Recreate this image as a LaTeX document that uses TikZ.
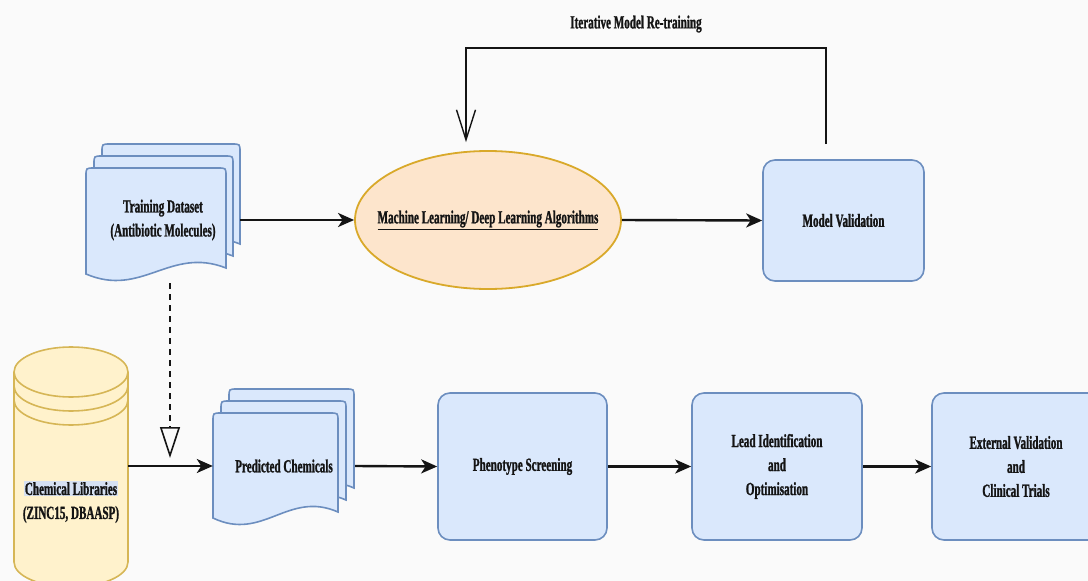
\documentclass[tikz,border=0pt]{standalone}
\usepackage{fontspec}
\setmainfont{Liberation Serif}[FakeStretch=0.6,
  BoldFont={Liberation Serif Bold}, BoldFeatures={FakeStretch=0.6, FakeBold=1.2}]
\usetikzlibrary{arrows.meta,shapes.geometric,calc}

\definecolor{bg}{HTML}{FAFAFA}
\definecolor{bluefill}{HTML}{DAE8FC}
\definecolor{bluedraw}{HTML}{6C8EBF}
\definecolor{yelfill}{HTML}{FFF2CC}
\definecolor{yeldraw}{HTML}{D6B656}
\definecolor{peach}{HTML}{FDE5CC}
\definecolor{gold}{HTML}{D9A92A}
\definecolor{ink}{HTML}{141414}
\definecolor{hilite}{HTML}{D6E1F3}

% one sheet of a stacked document: left x, top y, right x, left end y, right end y
\newcommand\docsheet[5]{%
  \filldraw[docline] (#1,#4) -- (#1,{#2+8}) .. controls (#1,#2) .. ({#1+8},#2)
    -- ({#3-8},#2) .. controls (#3,#2) .. (#3,{#2+8}) -- (#3,#5)
    .. controls ({#3-0.4*(#3-#1)},{#4-28}) and ({#1+0.4*(#3-#1)},{#4+24}) .. (#1,#4) -- cycle;}

\begin{document}
\begin{tikzpicture}[x=1pt,y=-1pt,
  lbl/.style={font=\fontsize{18.5}{24}\selectfont\bfseries, text=ink, align=center},
  procbox/.style={lbl, draw=bluedraw, fill=bluefill, line width=1.6pt, rounded corners=12pt},
  docline/.style={draw=bluedraw, fill=bluefill, line width=1.6pt},
  flow/.style={line width=2.4pt, draw=ink, -{Stealth[length=16pt,width=14pt,inset=4.5pt]}},
  fbline/.style={line width=2pt, draw=ink, -{Straight Barb[length=30pt,width=19pt,line width=1.4pt]}},
  dashflow/.style={line width=1.6pt, draw=ink, dash pattern=on 6pt off 5pt,
    -{Triangle[open,length=31pt,width=20pt,line width=1.6pt]}}]

\useasboundingbox (0,0) rectangle (1088,581);
\fill[bg] (0,0) rectangle (1088,581);

\begin{scope}
\clip (0,0) rectangle (1088,581);

% title of the feedback loop
\node[lbl] (title) at (636,24) {Iterative Model Re-training};

% training data: stacked documents
\docsheet{102}{144}{240}{250}{244}
\docsheet{94}{156}{233}{262}{256}
\docsheet{86}{168}{226}{274}{268}
\node[lbl, minimum width=154pt, minimum height=140pt] (train) at (163,220)
  {Training Dataset\\(Antibiotic Molecules)};

% learning algorithms
\node[ellipse, draw=gold, fill=peach, line width=1.8pt,
  minimum width=266pt, minimum height=138pt] (ml) at (488,220) {};
\node[lbl] (mltext) at (ml.center) {\underline{Machine Learning/ Deep Learning Algorithms}};

% validation
\node[procbox, minimum width=161pt, minimum height=121pt] (mv) at (843.5,220.5) {Model Validation};

% chemical libraries: datastore cylinder
\fill[yelfill] (14,372) -- (14,562) arc[start angle=180,end angle=0,x radius=57,y radius=25]
  -- (128,372) arc[start angle=0,end angle=-180,x radius=57,y radius=25] -- cycle;
\draw[yeldraw, line width=1.6pt] (14,372) -- (14,562) arc[start angle=180,end angle=0,x radius=57,y radius=25]
  -- (128,372) arc[start angle=0,end angle=-180,x radius=57,y radius=25] -- cycle;
\draw[yeldraw, line width=1.6pt] (14,372) arc[start angle=180,end angle=0,x radius=57,y radius=25];
\draw[yeldraw, line width=1.6pt] (14,386) arc[start angle=180,end angle=0,x radius=57,y radius=25];
\draw[yeldraw, line width=1.6pt] (14,400) arc[start angle=180,end angle=0,x radius=57,y radius=25];
\node[minimum width=114pt, minimum height=10pt, inner sep=0pt] (lib) at (71,466) {};
\node[lbl] (libtext) at (71,502)
  {{\setlength\fboxsep{1pt}\colorbox{hilite}{Chemical Libraries}}\\(ZINC15, DBAASP)};

% predicted chemicals: stacked documents
\docsheet{229}{389}{354}{494}{488}
\docsheet{221}{401}{346}{506}{500}
\docsheet{213}{413}{338}{518}{512}
\node[lbl, minimum width=142pt, minimum height=120pt] (pred) at (284,466) {Predicted Chemicals};

% pipeline stages
\node[procbox, minimum width=169pt, minimum height=147pt] (ph) at (522.5,466.5) {Phenotype Screening};
\node[procbox, minimum width=170pt, minimum height=147pt] (ld) at (777,466.5) {Lead Identification\\and\\Optimisation};
\node[procbox, minimum width=168pt, minimum height=147pt] (ex) at (1016,466.5) {External Validation\\and\\Clinical Trials};

% connectors
\draw[flow] (train.east) -- (ml.west);
\draw[flow] (ml.east) -- (mv.west);
\draw[flow] (lib.east) -- (pred.west);
\draw[flow] (pred.east) -- (ph.west);
\draw[flow] (ph.east) -- (ld.west);
\draw[flow] (ld.east) -- (ex.west);

% retraining loop
\coordinate (fbR) at (826,48);
\coordinate (fbL) at (466,48);
\draw[fbline] ([xshift=-17.5pt,yshift=15pt]mv.north) -- (fbR) -- (fbL) -- ($(fbL |- ml.north)+(0,-8)$);

% predictions feed the candidate set
\coordinate (dashtip) at (170,458);
\draw[dashflow] ([xshift=7pt,yshift=7pt]train.south) -- (dashtip);
\end{scope}
\end{tikzpicture}
\end{document}
